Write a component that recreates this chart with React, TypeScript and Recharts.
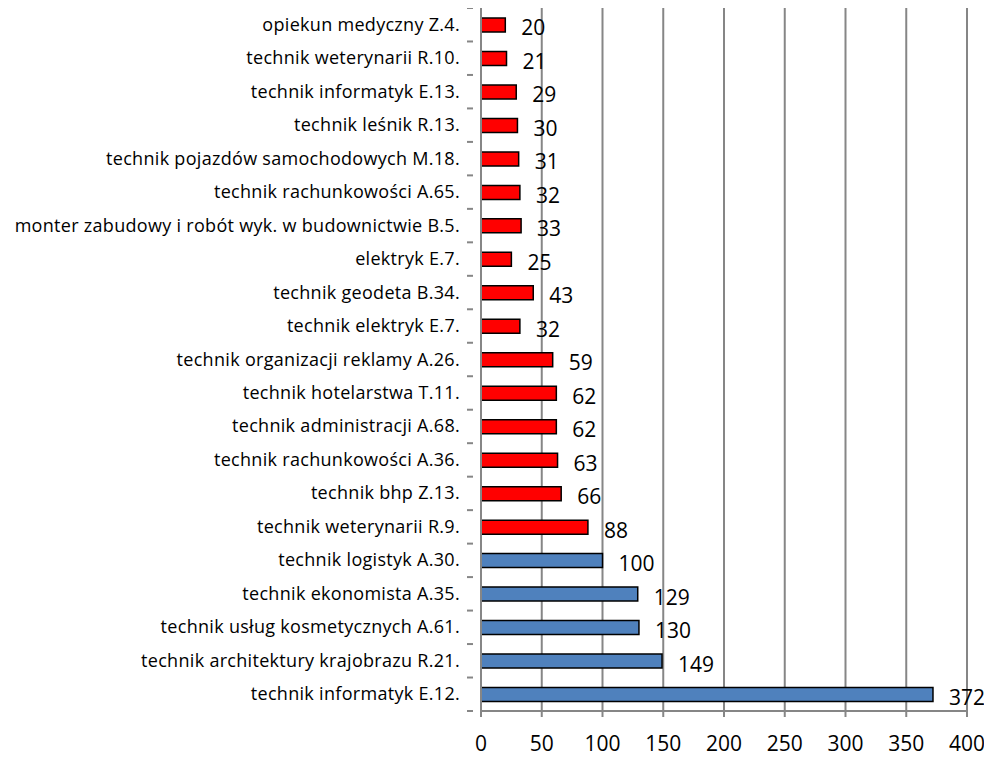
import React from 'react';
import { BarChart, Bar, XAxis, YAxis, CartesianGrid, Cell, LabelList } from 'recharts';

const categories = [
  'opiekun medyczny Z.4.',
  'technik weterynarii R.10.',
  'technik informatyk E.13.',
  'technik leśnik R.13.',
  'technik pojazdów samochodowych M.18.',
  'technik rachunkowości A.65.',
  'monter zabudowy i robót wyk. w budownictwie B.5.',
  'elektryk E.7.',
  'technik geodeta B.34.',
  'technik elektryk E.7.',
  'technik organizacji reklamy A.26.',
  'technik hotelarstwa T.11.',
  'technik administracji A.68.',
  'technik rachunkowości A.36.',
  'technik bhp Z.13.',
  'technik weterynarii R.9.',
  'technik logistyk A.30.',
  'technik ekonomista A.35.',
  'technik usług kosmetycznych A.61.',
  'technik architektury krajobrazu R.21.',
  'technik informatyk E.12.',
];

const values = [20, 21, 29, 30, 31, 32, 33, 25, 43, 32, 59, 62, 62, 63, 66, 88, 100, 129, 130, 149, 372];

// first 16 rows are red, the rest blue
const groups = ['r', 'r', 'r', 'r', 'r', 'r', 'r', 'r', 'r', 'r', 'r', 'r', 'r', 'r', 'r', 'r', 'b', 'b', 'b', 'b', 'b'];

const xTicks = [0, 50, 100, 150, 200, 250, 300, 350, 400];

const data = categories.map((name, i) => ({ name, value: values[i], group: groups[i] }));

const W = 984;
const H = 750;
const PLOT_H = 703;
const band = PLOT_H / categories.length;
const FONT = '"Open Sans", Arial, sans-serif';

const CategoryTick = (props: any) => {
  const { x, y, payload, index } = props;
  return (
    <g>
      <text
        x={x - 13}
        y={y}
        dy={6}
        textAnchor="end"
        fontSize={18}
        letterSpacing={0.3}
        fill="#000"
        fontFamily={FONT}
      >
        {payload.value}
      </text>
      <line x1={x - 6} x2={x} y1={y + band / 2} y2={y + band / 2} stroke="#868686" strokeWidth={2} />
      {index === 0 && (
        <line x1={x - 6} x2={x} y1={y - band / 2} y2={y - band / 2} stroke="#868686" strokeWidth={2} />
      )}
    </g>
  );
};

export default function App() {
  return (
    <BarChart
      width={W}
      height={H}
      data={data}
      layout="vertical"
      margin={{ top: 0, right: 25, bottom: 7, left: 0 }}
    >
      <CartesianGrid horizontal={false} stroke="#868686" strokeWidth={2} />
      <XAxis
        type="number"
        domain={[0, 400]}
        ticks={xTicks}
        interval={0}
        height={40}
        axisLine={{ stroke: '#868686', strokeWidth: 2 }}
        tickLine={{ stroke: '#868686', strokeWidth: 2 }}
        tickSize={6}
        tickMargin={19}
        tick={{ fontSize: 21, fill: '#000', fontFamily: FONT }}
      />
      <YAxis
        type="category"
        dataKey="name"
        width={473}
        interval={0}
        axisLine={{ stroke: '#868686', strokeWidth: 2 }}
        tickLine={false}
        tick={<CategoryTick />}
      />
      <Bar dataKey="value" barSize={14} stroke="#000" strokeWidth={1.5} isAnimationActive={false}>
        {data.map((d, i) => (
          <Cell key={`cell-${i}`} fill={d.group === 'r' ? '#FF0000' : '#4F81BD'} />
        ))}
        <LabelList
          dataKey="value"
          position="right"
          offset={16}
          dy={3}
          style={{ fontSize: 21, fill: '#000', fontFamily: FONT }}
        />
      </Bar>
    </BarChart>
  );
}
